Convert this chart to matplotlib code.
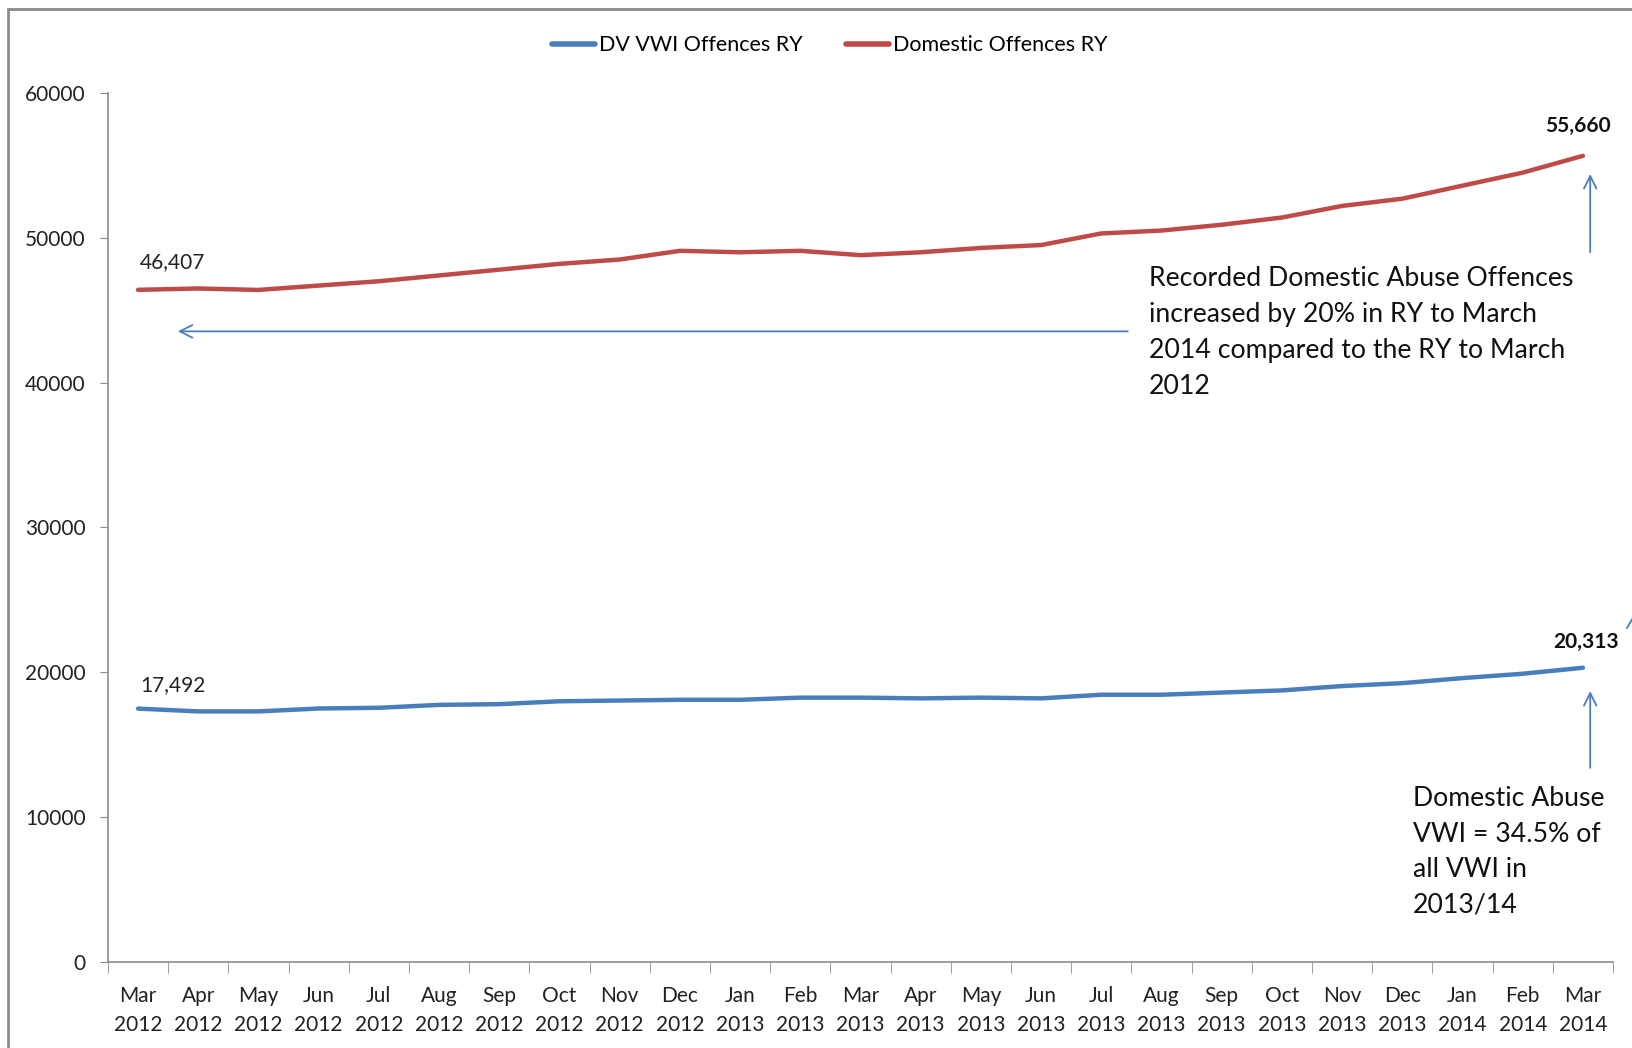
import matplotlib
matplotlib.use("Agg")
import matplotlib.pyplot as plt
from matplotlib.patches import Rectangle
from matplotlib.lines import Line2D

plt.rcParams['font.family'] = ['Lato', 'DejaVu Sans']

# Rolling-year totals, March 2012 to March 2014
months = ['Mar\n2012', 'Apr\n2012', 'May\n2012', 'Jun\n2012', 'Jul\n2012', 'Aug\n2012',
          'Sep\n2012', 'Oct\n2012', 'Nov\n2012', 'Dec\n2012', 'Jan\n2013', 'Feb\n2013',
          'Mar\n2013', 'Apr\n2013', 'May\n2013', 'Jun\n2013', 'Jul\n2013', 'Aug\n2013',
          'Sep\n2013', 'Oct\n2013', 'Nov\n2013', 'Dec\n2013', 'Jan\n2014', 'Feb\n2014',
          'Mar\n2014']
dv_vwi = [17492, 17300, 17300, 17500, 17550, 17750, 17800, 18000, 18050, 18100,
          18100, 18250, 18250, 18200, 18250, 18200, 18450, 18450, 18600, 18750,
          19050, 19250, 19600, 19900, 20313]
domestic = [46407, 46500, 46400, 46700, 47000, 47400, 47800, 48200, 48500, 49100,
            49000, 49100, 48800, 49000, 49300, 49500, 50300, 50500, 50900, 51400,
            52200, 52700, 53600, 54500, 55660]

blue = '#4A7EBB'
red = '#BE4B48'
axis_grey = '#8C8C8C'

fig = plt.figure(figsize=(16.33, 10.48), dpi=100)
ax = fig.add_axes([0.0661, 0.0821, 0.9217, 0.8292])

x = list(range(len(months)))
ax.plot(x, dv_vwi, color=blue, lw=3.2, solid_capstyle='round', label='DV VWI Offences RY')
ax.plot(x, domestic, color=red, lw=3.2, solid_capstyle='round', label='Domestic Offences RY')

ax.set_xlim(-0.5, len(months) - 0.5)
ax.set_ylim(0, 60000)
ax.set_yticks(range(0, 60001, 10000))
ax.set_xticks(x)
ax.set_xticklabels(months, fontsize=15, linespacing=1.6, color='#222222')
ax.set_xticks([i - 0.5 for i in range(len(months) + 1)], minor=True)
ax.tick_params(axis='x', which='major', length=0, pad=17)
ax.tick_params(axis='x', which='minor', length=8, color=axis_grey, direction='out')
ax.tick_params(axis='y', length=6, color=axis_grey, labelsize=15, labelcolor='#222222', pad=10)

for side in ('top', 'right'):
    ax.spines[side].set_visible(False)
for side in ('left', 'bottom'):
    ax.spines[side].set_color(axis_grey)
    ax.spines[side].set_linewidth(1.2)

# value labels at both ends of each series
ax.text(0.03, domestic[0] + 1900, f'{domestic[0]:,}', fontsize=15, color='#222222', va='center')
ax.text(0.03, dv_vwi[0] + 1650, f'{dv_vwi[0]:,}', fontsize=15, color='#222222', va='center')
ax.text(23.92, domestic[-1] + 2050, f'{domestic[-1]:,}', fontsize=15, fontweight='bold',
        ha='center', va='center', color='#111111')
ax.text(24.05, dv_vwi[-1] + 1800, f'{dv_vwi[-1]:,}', fontsize=15, fontweight='bold',
        ha='center', va='center', color='#111111')

arrow = dict(arrowstyle='->,head_length=0.9,head_width=0.45', color=blue, lw=1.3,
             shrinkA=0, shrinkB=0)
ax.annotate('', xy=(0.66, 43540), xytext=(16.44, 43540), arrowprops=arrow)
ax.annotate('', xy=(24.12, 54400), xytext=(24.12, 49000), arrowprops=arrow)
ax.annotate('', xy=(24.12, 18700), xytext=(24.12, 13400), arrowprops=arrow)

ax.text(16.79, 48050, 'Recorded Domestic Abuse Offences\nincreased by 20% in RY to March\n'
        '2014 compared to the RY to March\n2012', fontsize=19.2, linespacing=1.55,
        va='top', ha='left', color='#111111')
ax.text(21.17, 12150, 'Domestic Abuse\nVWI = 34.5% of\nall VWI in\n2013/14', fontsize=19.2,
        linespacing=1.53, va='top', ha='left', color='#111111')

leg = fig.legend(loc='center', bbox_to_anchor=(0.508, 0.957), ncol=2, frameon=False,
                 fontsize=15.5, handlelength=2.0, handletextpad=0.2, columnspacing=2.0)
for line in leg.get_lines():
    line.set_linewidth(4)

# stray arrow stub running off the right edge
fig.add_artist(Line2D([1627 / 1633, 1634 / 1633], [1 - 628 / 1048, 1 - 616 / 1048],
                      transform=fig.transFigure, color=blue, lw=1.3))

# chart area border
fig.patches.append(Rectangle((8 / 1633, -0.1), 1.2, 1.1 - 9 / 1048, transform=fig.transFigure,
                             fill=False, edgecolor='#8A8A8A', lw=2))

fig.savefig('out.png', dpi=100)
